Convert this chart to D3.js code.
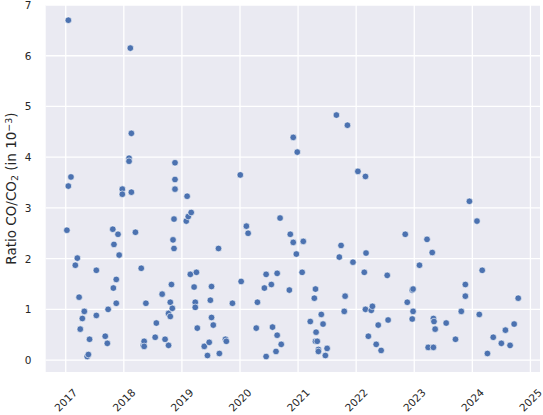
<!DOCTYPE html>
<html>
<head>
<meta charset="utf-8">
<script src="https://cdnjs.cloudflare.com/ajax/libs/d3/7.8.5/d3.min.js"></script>
<style>
  body { margin: 0; background: #fff; }
  text { font-family: "DejaVu Sans", sans-serif; fill: #262626; }
</style>
</head>
<body>
<div id="chart"></div>
<script>
// decimal year of each measurement
var years = [
  2017.02, 2017.045, 2017.045, 2017.09, 2017.165, 2017.20, 2017.23, 2017.25, 2017.286, 2017.32,
  2017.37, 2017.39, 2017.41, 2017.527, 2017.527, 2017.68, 2017.716, 2017.73, 2017.81, 2017.82,
  2017.83, 2017.87, 2017.87, 2017.90, 2017.92, 2017.974, 2017.974, 2018.09, 2018.09, 2018.112,
  2018.13, 2018.13, 2018.20, 2018.30, 2018.336, 2018.35, 2018.35, 2018.38, 2018.54, 2018.56,
  2018.66, 2018.71, 2018.77, 2018.77, 2018.80, 2018.80, 2018.82, 2018.835, 2018.847, 2018.864,
  2018.864, 2018.881, 2018.881, 2018.881, 2019.075, 2019.09, 2019.11, 2019.145, 2019.16, 2019.21,
  2019.23, 2019.23, 2019.25, 2019.265, 2019.385, 2019.44, 2019.47, 2019.49, 2019.51, 2019.51,
  2019.54, 2019.63, 2019.645, 2019.75, 2019.765, 2019.87, 2020.005, 2020.02, 2020.11, 2020.14,
  2020.28, 2020.30, 2020.42, 2020.45, 2020.45, 2020.54, 2020.56, 2020.62, 2020.64, 2020.64,
  2020.69, 2020.71, 2020.85, 2020.866, 2020.917, 2020.917, 2020.97, 2020.986, 2021.07, 2021.09,
  2021.21, 2021.28, 2021.30, 2021.30, 2021.31, 2021.33, 2021.35, 2021.35, 2021.40, 2021.43,
  2021.47, 2021.50, 2021.66, 2021.71, 2021.74, 2021.795, 2021.81, 2021.85, 2021.945, 2022.03,
  2022.14, 2022.16, 2022.16, 2022.17, 2022.21, 2022.26, 2022.28, 2022.345, 2022.38, 2022.43,
  2022.535, 2022.55, 2022.845, 2022.88, 2022.965, 2022.965, 2022.98, 2022.98, 2023.09, 2023.22,
  2023.24, 2023.31, 2023.33, 2023.33, 2023.34, 2023.36, 2023.55, 2023.71, 2023.81, 2023.88,
  2023.88, 2023.95, 2024.08, 2024.12, 2024.17, 2024.26, 2024.36, 2024.50, 2024.57, 2024.65,
  2024.72, 2024.79
];

// CO/CO2 ratio in 10^-3
var ratios = [
  2.56, 3.43, 6.70, 3.61, 1.87, 2.01, 1.24, 0.61, 0.82, 0.96,
  0.07, 0.11, 0.41, 1.77, 0.88, 0.47, 0.33, 1.00, 2.58, 1.42,
  2.28, 1.59, 1.12, 2.48, 2.07, 3.37, 3.27, 3.98, 3.92, 6.15,
  4.47, 3.31, 2.52, 1.81, 0.29, 0.37, 0.27, 1.12, 0.45, 0.73,
  1.30, 0.41, 0.92, 0.29, 1.14, 0.86, 1.49, 1.02, 2.37, 2.78,
  2.20, 3.89, 3.56, 3.37, 2.74, 3.23, 2.83, 1.69, 2.91, 1.44,
  1.14, 1.04, 1.73, 0.63, 0.27, 0.09, 0.35, 1.18, 1.45, 0.84,
  0.69, 2.20, 0.13, 0.41, 0.37, 1.12, 3.65, 1.55, 2.64, 2.50,
  0.63, 1.14, 1.42, 1.69, 0.07, 1.49, 0.65, 0.17, 1.71, 0.49,
  2.80, 0.31, 1.38, 2.48, 4.39, 2.32, 2.09, 4.10, 1.73, 2.34,
  0.76, 1.22, 1.40, 0.37, 0.55, 0.37, 0.21, 0.17, 0.90, 0.71,
  0.09, 0.23, 4.83, 2.03, 2.26, 0.96, 1.26, 4.63, 1.93, 3.72,
  1.73, 3.62, 1.00, 2.11, 0.47, 0.98, 1.06, 0.31, 0.69, 0.19,
  1.67, 0.79, 2.48, 1.14, 1.38, 0.81, 1.40, 0.96, 1.87, 2.38,
  0.25, 2.12, 0.82, 0.25, 0.76, 0.61, 0.73, 0.41, 0.96, 1.49,
  1.26, 3.13, 2.74, 0.90, 1.77, 0.13, 0.45, 0.33, 0.59, 0.29,
  0.71, 1.22
];

var xTicks = [2017, 2018, 2019, 2020, 2021, 2022, 2023, 2024, 2025];
var yTicks = [0, 1, 2, 3, 4, 5, 6, 7];

var width = 543, height = 415;
var plotLeft = 45.7, plotRight = 540, plotTop = 5, plotBottom = 372;

var svg = d3.select("#chart")
  .append("svg")
  .attr("width", width)
  .attr("height", height);

var x = d3.scaleLinear().domain([2016.655, 2025.165]).range([plotLeft, plotRight]);
var y = d3.scaleLinear().domain([-0.235, 7.0]).range([plotBottom, plotTop]);

// plot background
svg.append("rect")
  .attr("x", plotLeft).attr("y", plotTop)
  .attr("width", plotRight - plotLeft).attr("height", plotBottom - plotTop)
  .attr("fill", "#eaeaf2");

// gridlines
svg.selectAll(".vgrid")
  .data(xTicks)
  .enter().append("line")
  .attr("x1", function(d) { return x(d); })
  .attr("x2", function(d) { return x(d); })
  .attr("y1", plotTop).attr("y2", plotBottom)
  .attr("stroke", "#fff").attr("stroke-width", 1.3);

svg.selectAll(".hgrid")
  .data(yTicks)
  .enter().append("line")
  .attr("x1", plotLeft).attr("x2", plotRight)
  .attr("y1", function(d) { return y(d); })
  .attr("y2", function(d) { return y(d); })
  .attr("stroke", "#fff").attr("stroke-width", 1.3);

// tick labels
svg.selectAll(".ylab")
  .data(yTicks)
  .enter().append("text")
  .attr("x", 31.5)
  .attr("y", function(d) { return y(d); })
  .attr("text-anchor", "end")
  .attr("dominant-baseline", "central")
  .style("font-size", "10.5px")
  .text(function(d) { return d; });

svg.selectAll(".xlab")
  .data(xTicks)
  .enter().append("text")
  .attr("transform", function(d) { return "translate(" + x(d) + ",400) rotate(-45)"; })
  .attr("text-anchor", "middle")
  .attr("dominant-baseline", "central")
  .style("font-size", "10.5px")
  .text(function(d) { return d; });

// y axis title with sub/superscript
var ylabel = svg.append("text")
  .attr("transform", "translate(15.5," + ((plotTop + plotBottom) / 2) + ") rotate(-90)")
  .attr("text-anchor", "middle")
  .style("font-size", "13.5px");
ylabel.append("tspan").text("Ratio CO/CO");
ylabel.append("tspan").attr("baseline-shift", "-20%").style("font-size", "9.5px").text("2");
ylabel.append("tspan").text(" (in 10");
ylabel.append("tspan").attr("baseline-shift", "40%").style("font-size", "9.5px").text("\u22123");
ylabel.append("tspan").text(")");

// points
var points = years.map(function(d, i) { return { year: d, ratio: ratios[i] }; });

svg.selectAll(".dot")
  .data(points)
  .enter().append("circle")
  .attr("class", "dot")
  .attr("cx", function(d) { return x(d.year); })
  .attr("cy", function(d) { return y(d.ratio); })
  .attr("r", 3.3)
  .attr("fill", "#4c72b0")
  .attr("stroke", "#fff")
  .attr("stroke-width", 0.6);
</script>
</body>
</html>
